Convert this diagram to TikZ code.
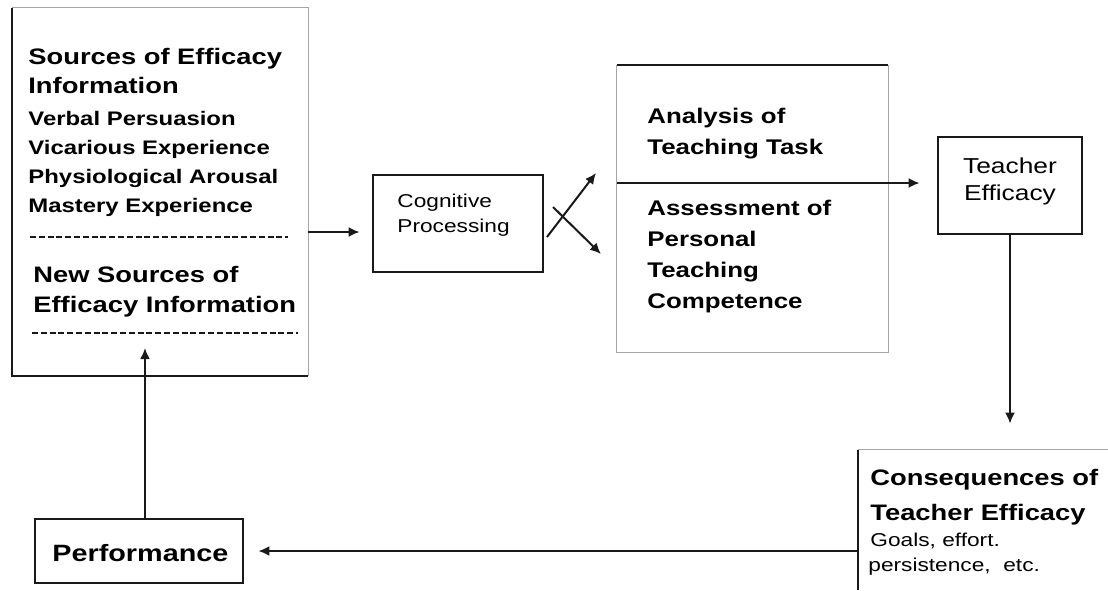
\documentclass[tikz,border=0pt]{standalone}
\usepackage{fontspec}
\setmainfont{Liberation Sans}
\newfontfamily\wf[FakeStretch=1.22]{Liberation Sans}
\usetikzlibrary{arrows.meta,fit}
\begin{document}
\begin{tikzpicture}[x=0.5pt,y=-0.5pt,
  dk/.style={draw=black!90,line width=1pt},
  lt/.style={draw=black!35,line width=0.8pt},
  arr/.style={draw=black!90,line width=1pt,-{Latex[length=5.5pt,width=5pt]}},
  boxn/.style={inner sep=0pt},
  txt/.style={anchor=base west,inner sep=0pt,text=black},
  hd/.style={txt,font=\fontsize{11.2pt}{13pt}\wf\bfseries},
  li/.style={txt,font=\fontsize{9.8pt}{12pt}\wf\bfseries},
  md/.style={txt,font=\fontsize{10.6pt}{12pt}\wf\bfseries},
  sm/.style={txt,font=\fontsize{9.3pt}{11pt}\wf},
  tc/.style={anchor=base,inner sep=0pt,text=black,font=\fontsize{10.8pt}{12pt}\wf},
  dsh/.style={draw=black!90,line width=1pt,dash pattern=on 3pt off 1.4pt}
]
\useasboundingbox[fill=white] (0,0) rectangle (1108,590);

% boxes
\node[boxn,fit={(12,8)(308,376)}] (src) {};
\node[boxn,fit={(373,175)(543,272)}] (cog) {};
\node[boxn,fit={(617,65)(888,352)}] (mid) {};
\node[boxn,fit={(938,137)(1082,234)}] (te) {};
\node[boxn,fit={(858,450)(1108,590)}] (cons) {};
\node[boxn,fit={(35,519)(243,583)}] (perf) {};

% borders
\draw[lt] (src.north west) -- (src.north east) -- (src.south east);
\draw[dk] (src.north west) -- (src.south west) -- (src.south east);
\draw[dk] (cog.north west) rectangle (cog.south east);
\draw[lt] (mid.north west) -- (mid.south west) -- (mid.south east) -- (mid.north east);
\draw[dk] (mid.north west) -- (mid.north east);
\draw[dk] (te.north west) rectangle (te.south east);
\draw[lt] (cons.north west) -- (cons.north east);
\draw[dk] (cons.north west) -- (cons.south west);
\draw[dk] (perf.north west) rectangle (perf.south east);

% left box text
\node[hd] (s1) at (28,64) {Sources of Efficacy};
\node[hd] (s2) at (28,93) {Information};
\node[li] (s3) at (28,125) {Verbal Persuasion};
\node[li] (s4) at (28,154) {Vicarious Experience};
\node[li] (s5) at (28,183) {Physiological Arousal};
\node[li] (s6) at (28,212) {Mastery Experience};
\draw[dsh] (30,237) -- (288,237);
\node[hd] (n1) at (33,282) {New Sources of};
\node[hd] (n2) at (33,312) {Efficacy Information};
\draw[dsh] (32,333) -- (298,333);

% cognitive
\node[sm] (c1) at (397,207) {Cognitive};
\node[sm] (c2) at (397,232) {Processing};

% middle box text
\node[md] (m1) at (647,123) {Analysis of};
\node[md] (m2) at (647,154) {Teaching Task};
\node[md] (m3) at (647,215) {Assessment of};
\node[md] (m4) at (647,246) {Personal};
\node[md] (m5) at (647,277) {Teaching};
\node[md] (m6) at (647,308) {Competence};

% teacher efficacy
\node[tc] (t1) at (1010,173) {Teacher};
\node[tc] (t2) at (1010,200) {Efficacy};

% consequences
\node[hd] (q1) at (870,485) {Consequences of};
\node[hd] (q2) at (870,520) {Teacher Efficacy};
\node[sm] (q3) at (870,546) {Goals, effort.};
\node[sm] (q4) at (868,571) {persistence,\ \ etc.};

% performance
\node[txt,font=\fontsize{11.8pt}{13pt}\wf\bfseries] (p1) at (52,561) {Performance};

% connectors
\coordinate (ya) at (0,232);
\draw[arr,shorten >=6.5pt] (src.east |- ya) -- (cog.west |- ya);
\coordinate (x1) at (547,237);
\coordinate (x2) at (596,173);
\coordinate (x3) at (553,207);
\coordinate (x4) at (601,254);
\draw[arr] (x1) -- (x2);
\draw[arr] (x3) -- (x4);
\coordinate (yb) at (0,183);
\draw[arr,shorten >=9pt] (mid.west |- yb) -- (te.west |- yb);
\draw[arr,shorten >=13pt] (te.south) -- (te.south |- cons.north);
\coordinate (yc) at (0,551);
\draw[arr,shorten >=7.5pt] (cons.west |- yc) -- (perf.east |- yc);
\coordinate (pin) at (145,348);
\draw[arr] (perf.north -| pin) -- (pin);
\end{tikzpicture}
\end{document}
